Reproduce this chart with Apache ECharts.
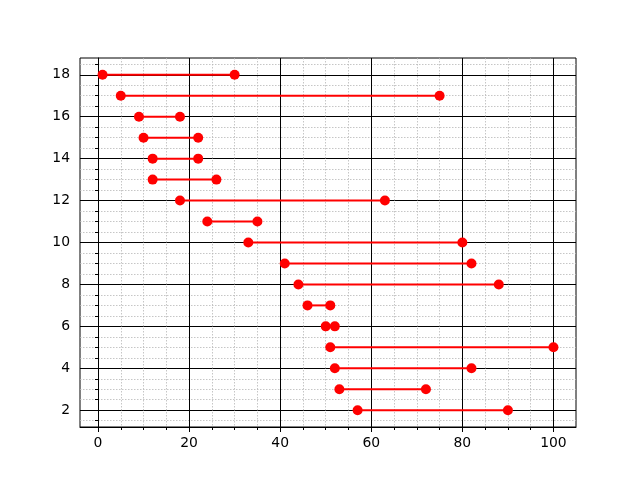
<!DOCTYPE html>
<html>
<head>
<meta charset="utf-8">
<script src="https://cdn.jsdelivr.net/npm/echarts@6/dist/echarts.min.js"></script>
<style>html,body{margin:0;padding:0;background:#fff}#c{width:640px;height:480px}</style>
</head>
<body>
<div id="c"></div>
<script>
const rows   = [18, 17, 16, 15, 14, 13, 12, 11, 10, 9, 8, 7, 6, 5, 4, 3, 2];
const starts = [1, 5, 9, 10, 12, 12, 18, 24, 33, 41, 44, 46, 50, 51, 52, 53, 57];
const ends   = [30, 75, 18, 22, 22, 26, 63, 35, 80, 82, 88, 51, 52, 100, 82, 72, 90];
const xTicks = [0, 20, 40, 60, 80, 100];
const yTicks = [2, 4, 6, 8, 10, 12, 14, 16, 18];

const font = 'DejaVu Sans';
const series = rows.map((y, i) => ({
  type: 'line',
  data: [[starts[i], y], [ends[i], y]],
  symbol: 'circle',
  symbolSize: 10,
  showSymbol: true,
  itemStyle: { color: '#ff0000' },
  lineStyle: { color: '#ff0000', width: 2 },
  emphasis: { disabled: true },
  silent: true,
  animation: false
}));

const chart = echarts.init(document.getElementById('c'), null, { renderer: 'canvas' });
chart.setOption({
  animation: false,
  grid: { left: 80, top: 58, width: 496, height: 369, show: true, borderColor: '#000', borderWidth: 1, backgroundColor: 'transparent', containLabel: false },
  xAxis: {
    type: 'value', min: -3.95, max: 104.95, minInterval: 20, maxInterval: 20,
    axisLine: { show: true, lineStyle: { color: '#000', width: 1 } },
    axisTick: { show: true, length: 5, lineStyle: { color: '#000' }, customValues: xTicks },
    minorTick: { show: true, splitNumber: 4, length: 3, lineStyle: { color: '#000' } },
    splitLine: { show: true, lineStyle: { color: '#000', width: 1 } },
    minorSplitLine: { show: true, lineStyle: { color: '#b8b8b8', width: 0.8, type: [1.5, 1.5] } },
    axisLabel: { color: '#000', fontFamily: font, fontSize: 13.9, margin: 9, customValues: xTicks }
  },
  yAxis: {
    type: 'value', min: 1.2, max: 18.8, minInterval: 2, maxInterval: 2,
    axisLine: { show: true, lineStyle: { color: '#000', width: 1 } },
    axisTick: { show: true, length: 5, lineStyle: { color: '#000' }, customValues: yTicks },
    minorTick: { show: true, splitNumber: 4, length: 3, lineStyle: { color: '#000' } },
    splitLine: { show: true, lineStyle: { color: '#000', width: 1 } },
    minorSplitLine: { show: true, lineStyle: { color: '#b8b8b8', width: 0.8, type: [1.5, 1.5] } },
    axisLabel: { color: '#000', fontFamily: font, fontSize: 13.9, margin: 10, customValues: yTicks }
  },
  series: series
});
</script>
</body>
</html>
